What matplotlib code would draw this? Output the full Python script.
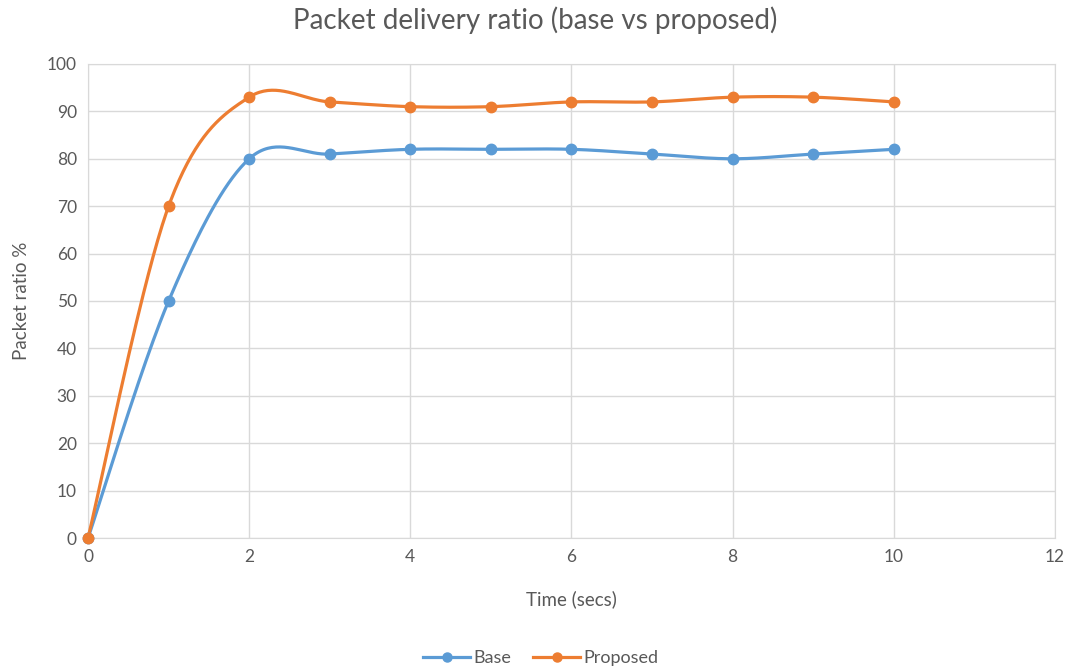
import numpy as np
import matplotlib.pyplot as plt
from matplotlib.lines import Line2D

time_secs = [0, 1, 2, 3, 4, 5, 6, 7, 8, 9, 10]
base = [0, 50, 80, 81, 82, 82, 82, 81, 80, 81, 82]
proposed = [0, 70, 93, 92, 91, 91, 92, 92, 93, 93, 92]

blue = '#5b9bd5'
orange = '#ed7d31'
grey_text = '#595959'
grid_col = '#d9d9d9'

plt.rcParams['font.family'] = ['Lato', 'DejaVu Sans']


def smooth(x, y, n=40):
    # catmull-rom style bezier, like a spreadsheet "smoothed line"
    x = np.asarray(x, float)
    y = np.asarray(y, float)
    pts = np.column_stack([x, y])
    ext = np.vstack([pts[0], pts, pts[-1]])
    out = []
    t = np.linspace(0, 1, n)[:, None]
    for i in range(len(pts) - 1):
        p0, p1, p2, p3 = ext[i], ext[i + 1], ext[i + 2], ext[i + 3]
        c1 = p1 + (p2 - p0) / 6
        c2 = p2 - (p3 - p1) / 6
        seg = ((1 - t) ** 3) * p1 + 3 * ((1 - t) ** 2) * t * c1 + 3 * (1 - t) * t ** 2 * c2 + t ** 3 * p2
        out.append(seg if i == 0 else seg[1:])
    out = np.vstack(out)
    return out[:, 0], out[:, 1]


fig = plt.figure(figsize=(10.71, 6.70), dpi=100)
ax = fig.add_axes([0.0822, 0.197, 0.9028, 0.7075])

for ys, col in [(base, blue), (proposed, orange)]:
    sx, sy = smooth(time_secs, ys)
    ax.plot(sx, sy, color=col, lw=2.3, solid_capstyle='round', zorder=3, clip_on=False)
    ax.plot(time_secs, ys, 'o', color=col, ms=7.5, zorder=4, clip_on=False)

ax.set_xlim(0, 12)
ax.set_ylim(0, 100)
ax.set_xticks(range(0, 13, 2))
ax.set_yticks(range(0, 101, 10))
ax.grid(True, color=grid_col, lw=1)
ax.set_axisbelow(True)
for s in ax.spines.values():
    s.set_color(grid_col)
ax.tick_params(length=0, colors=grey_text, labelsize=12.5, pad=8)

ax.set_xlabel('Time (secs)', color=grey_text, fontsize=13.5, labelpad=18)
ax.set_ylabel('Packet ratio %', color=grey_text, fontsize=13.5, labelpad=12)
fig.suptitle('Packet delivery ratio (base vs proposed)', color=grey_text,
             fontsize=20, y=0.99)

handles = [Line2D([], [], color=blue, lw=2.3, marker='o', ms=6.5),
           Line2D([], [], color=orange, lw=2.3, marker='o', ms=6.5)]
fig.legend(handles, ['Base', 'Proposed'], loc='center', bbox_to_anchor=(0.505, 0.018),
           ncol=2, frameon=False, fontsize=13, labelcolor=grey_text,
           handlelength=2.6, handletextpad=0.2, columnspacing=1.2)

fig.savefig('out.png', dpi=100)
